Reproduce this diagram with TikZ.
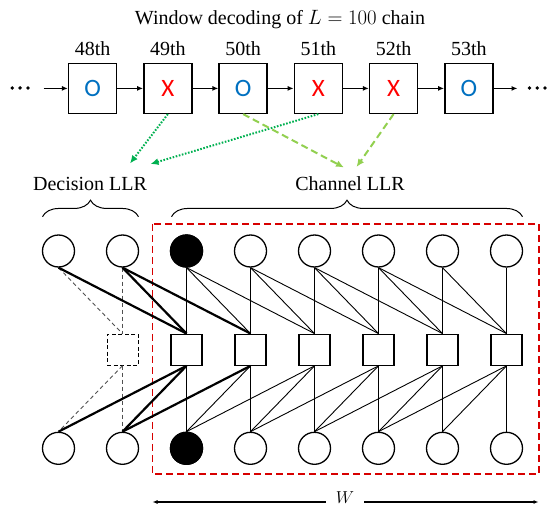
\documentclass[tikz,border=0pt]{standalone}
\usepackage{fontspec}
\setmainfont{Liberation Serif}
\newfontfamily\sansfam{Carlito}
\usetikzlibrary{arrows.meta,decorations.pathreplacing,calc}
\definecolor{oblue}{RGB}{0,112,192}
\definecolor{xred}{RGB}{255,0,0}
\definecolor{dgreen}{RGB}{0,176,80}
\definecolor{lgreen}{RGB}{146,208,80}
\definecolor{wred}{RGB}{215,0,0}
\definecolor{dgray}{RGB}{80,80,80}
\begin{document}
\begin{tikzpicture}[x=1pt,y=-1pt,
  txt/.style={font=\fontsize{20}{24}\selectfont, inner sep=0pt},
  chainbox/.style={draw, line width=1.4pt, minimum width=48pt, minimum height=50pt, inner sep=0pt, font=\fontsize{25}{28}\selectfont\sansfam},
  chainarrow/.style={line width=1.4pt, -{Latex[length=6pt,width=5pt]}},
  vnode/.style={circle, draw, line width=1.3pt, minimum size=32pt, inner sep=0pt},
  vfill/.style={vnode, fill=black},
  cnode/.style={rectangle, draw, line width=1.3pt, minimum size=31pt, inner sep=0pt},
  cdash/.style={cnode, dashed, dash pattern=on 4pt off 2.5pt, line width=1pt},
  thinedge/.style={line width=0.9pt},
  thickedge/.style={line width=2.2pt},
  dashedge/.style={line width=0.9pt, dgray, dash pattern=on 4pt off 3pt},
  gdot/.style={dgreen, line width=2pt, dash pattern=on 1.6pt off 1.6pt, -{Latex[length=8pt,width=7pt]}},
  gdash/.style={lgreen, line width=2pt, dash pattern=on 7pt off 4pt, -{Latex[length=8pt,width=7pt]}},
  bracestyle/.style={decorate, decoration={brace, amplitude=16.5pt}, line width=1pt},
  dotfill/.style={fill=black}
]
\useasboundingbox (0,0) rectangle (548,508);

% title
\node[txt, anchor=base] (title) at (280,24.5) {Window decoding of $L = 100$ chain};

% chain boxes
\foreach \i/\lab/\ch/\col in {0/48/O/oblue, 1/49/X/xred, 2/50/O/oblue, 3/51/X/xred, 4/52/X/xred, 5/53/O/oblue} {
  \node[chainbox, text=\col] (c\lab) at ({92.6+75.25*\i},88.4) {\ch};
  \node[txt, anchor=base] (l\lab) at ({92.6+75.25*\i},56) {\lab th};
}
% dots
\fill[dotfill] (12.3,88) circle (1.9pt) (20.1,88) circle (1.9pt) (27.9,88) circle (1.9pt);
\fill[dotfill] (529.5,88) circle (1.9pt) (537.2,88) circle (1.9pt) (545,88) circle (1.9pt);
\coordinate (cin) at (43.5,88.4);
\coordinate (cout) at (517.5,88.4);
\draw[chainarrow] (cin) -- (c48.west);
\draw[chainarrow] (c48.east) -- (c49.west);
\draw[chainarrow] (c49.east) -- (c50.west);
\draw[chainarrow] (c50.east) -- (c51.west);
\draw[chainarrow] (c51.east) -- (c52.west);
\draw[chainarrow] (c52.east) -- (c53.west);
\draw[chainarrow] (c53.east) -- (cout);

% green arrows
\coordinate (dl1) at (130,163.5);
\coordinate (dl2) at (150.5,164);
\coordinate (cl1) at (344,167.5);
\coordinate (cl2) at (356.5,167);
\draw[gdot] (c49.south) -- (dl1);
\draw[gdot] (c51.south) -- (dl2);
\draw[gdash] (c50.south) -- (cl1);
\draw[gdash] (c52.south) -- (cl2);

% labels and braces
\node[txt, anchor=base] (declab) at (90,190) {Decision LLR};
\node[txt, anchor=base] (chlab) at (350,190) {Channel LLR};
\coordinate (db1) at (42.5,216.7);
\coordinate (db2) at (138.5,216.7);
\coordinate (cb1) at (171.5,216.7);
\coordinate (cb2) at (522.5,216.7);
\draw[bracestyle] (db1) -- (db2);
\draw[bracestyle] (cb1) -- (cb2);

% window rectangle
\draw[wred, line width=1.5pt, dash pattern=on 7pt off 4pt] (152.3,223.8) rectangle (539,474);

% nodes of the graph
\foreach \k in {0,...,7} {
  \node[vnode] (t\k) at ({58.5+64*\k},251) {};
  \node[vnode] (b\k) at ({58.5+64*\k},448.3) {};
}
\node[vfill] (t2f) at (t2) {};
\node[vfill] (b2f) at (b2) {};
\node[cdash] (s1) at (122.5,349.7) {};
\foreach \k in {2,...,7} {
  \node[cnode] (s\k) at ({58.5+64*\k},349.7) {};
}

% edges top -> squares
\foreach \k in {2,...,7} {
  \draw[thinedge] (t\k.south) -- (s\k.north);
}
\foreach \k/\m in {2/3,3/4,4/5,5/6,6/7} {
  \draw[thinedge] (t\k.south) -- (s\m.north);
}
\foreach \k/\m in {2/4,3/5,4/6,5/7} {
  \draw[thinedge] (t\k.south) -- (s\m.north);
}
\draw[dashedge] (t0.south) -- (s1.north);
\draw[dashedge] (t1.south) -- (s1.north);
\draw[thickedge] (t0.south) -- (s2.north);
\draw[thickedge] (t1.south) -- (s2.north);
\draw[thickedge] (t1.south) -- (s3.north);

% edges squares -> bottom
\foreach \k in {2,...,7} {
  \draw[thinedge] (s\k.south) -- (b\k.north);
}
\foreach \k/\m in {3/2,4/3,5/4,6/5,7/6} {
  \draw[thinedge] (s\k.south) -- (b\m.north);
}
\foreach \k/\m in {4/2,5/3,6/4,7/5} {
  \draw[thinedge] (s\k.south) -- (b\m.north);
}
\draw[dashedge] (s1.south) -- (b0.north);
\draw[dashedge] (s1.south) -- (b1.north);
\draw[thickedge] (s2.south) -- (b0.north);
\draw[thickedge] (s2.south) -- (b1.north);
\draw[thickedge] (s3.south) -- (b1.north);

% window width arrow
\node[font=\fontsize{18}{20}\selectfont, inner sep=0pt, minimum width=38pt, anchor=base] (wlab) at (345,503) {$W$};
\coordinate (wl) at (152.5,502);
\coordinate (wr) at (538.5,502);
\draw[line width=1.2pt, -{Latex[length=5pt,width=4pt]}] (wlab.west |- wl) -- (wl);
\draw[line width=1.2pt, -{Latex[length=5pt,width=4pt]}] (wlab.east |- wr) -- (wr);
\end{tikzpicture}
\end{document}
